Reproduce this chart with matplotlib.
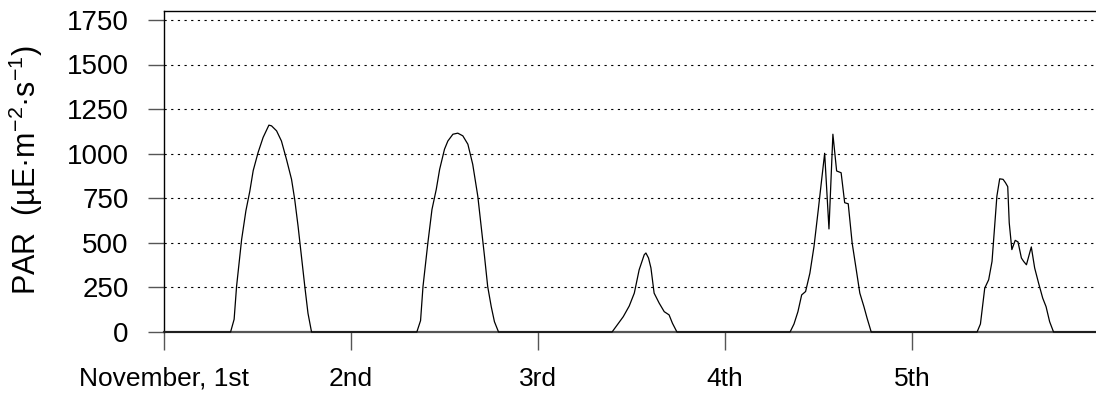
import matplotlib
matplotlib.use("Agg")
import matplotlib.pyplot as plt

plt.rcParams["font.family"] = ["Liberation Sans", "DejaVu Sans"]
plt.rcParams["mathtext.default"] = "regular"

# time in days since Nov 1st 00:00, PAR in uE m-2 s-1
day1_t = [0.356, 0.375, 0.388, 0.415, 0.438, 0.459, 0.477, 0.503, 0.530, 0.561,
          0.575, 0.602, 0.628, 0.655, 0.682, 0.699, 0.717, 0.735, 0.753, 0.770, 0.789]
day1_par = [0, 71, 255, 518, 680, 790, 905, 1006, 1091, 1160,
            1156, 1128, 1071, 968, 856, 743, 593, 424, 255, 105, 0]

day2_t = [1.352, 1.372, 1.385, 1.411, 1.433, 1.456, 1.474, 1.500, 1.518, 1.545, 1.571,
          1.598, 1.625, 1.651, 1.678, 1.696, 1.714, 1.731, 1.750, 1.767, 1.789]
day2_par = [0, 64, 255, 499, 687, 800, 912, 1025, 1071, 1109, 1115,
            1100, 1053, 940, 762, 593, 424, 255, 142, 58, 0]

day3_t = [2.396, 2.417, 2.456, 2.488, 2.515, 2.541, 2.568, 2.577, 2.591, 2.604,
          2.621, 2.648, 2.675, 2.701, 2.719, 2.743]
day3_par = [0, 30, 86, 146, 218, 349, 433, 443, 415, 359,
            218, 162, 114, 96, 49, 0]

day4_t = [3.348, 3.369, 3.390, 3.410, 3.431, 3.454, 3.476, 3.499, 3.516, 3.533, 3.556,
          3.577, 3.597, 3.621, 3.640, 3.659, 3.680, 3.702, 3.721, 3.743, 3.760, 3.782]
day4_par = [0, 45, 114, 208, 227, 330, 480, 687, 846, 1002, 578,
            1109, 903, 893, 725, 719, 499, 349, 218, 142, 77, 0]

day5_t = [4.348, 4.366, 4.389, 4.410, 4.428, 4.442, 4.454, 4.469, 4.487, 4.500, 4.512,
          4.520, 4.534, 4.552, 4.567, 4.585, 4.597, 4.612, 4.638, 4.656, 4.677, 4.699,
          4.717, 4.736, 4.757]
day5_par = [0, 45, 246, 293, 396, 593, 762, 859, 856, 837, 815,
            612, 462, 514, 505, 415, 396, 377, 477, 359, 274, 190,
            142, 58, 0]

day_ticks = [0, 1, 2, 3, 4]
day_labels = ["November, 1st", "2nd", "3rd", "4th", "5th"]
par_ticks = [0, 250, 500, 750, 1000, 1250, 1500, 1750]

t = [0.0] + day1_t + day2_t + day3_t + day4_t + day5_t + [4.99]
par = [0] + day1_par + day2_par + day3_par + day4_par + day5_par + [0]

fig = plt.figure(figsize=(10.96, 3.99), dpi=100)
ax = fig.add_axes([164 / 1096, 67 / 399, 1 - 164 / 1096, 321 / 399])

ax.plot(t, par, color="black", lw=0.9, zorder=3, clip_on=False)

ax.set_xlim(0, 4.984)
ax.set_ylim(0, 1800)
ax.set_xticks(day_ticks)
ax.set_xticklabels(day_labels)
ax.set_yticks(par_ticks)

ax.yaxis.grid(True, color="black", linestyle=(0, (2, 4)), lw=0.8)
ax.set_axisbelow(True)

ax.spines["right"].set_visible(False)
ax.spines["top"].set_linewidth(1.0)
ax.spines["left"].set_linewidth(1.0)
ax.spines["bottom"].set_color("#555555")
ax.spines["bottom"].set_linewidth(1.6)

ax.tick_params(axis="y", length=11.5, width=1.0, color="#555555", pad=14, labelsize=20)
ax.tick_params(axis="x", length=13, width=1.0, color="#555555", pad=12, labelsize=19)

fig.text(26 / 1096, 0.575, "PAR  (µE·m$^{-2}$·s$^{-1}$)", rotation=90,
         ha="center", va="center", fontsize=22)

fig.savefig("out.png", dpi=100)
